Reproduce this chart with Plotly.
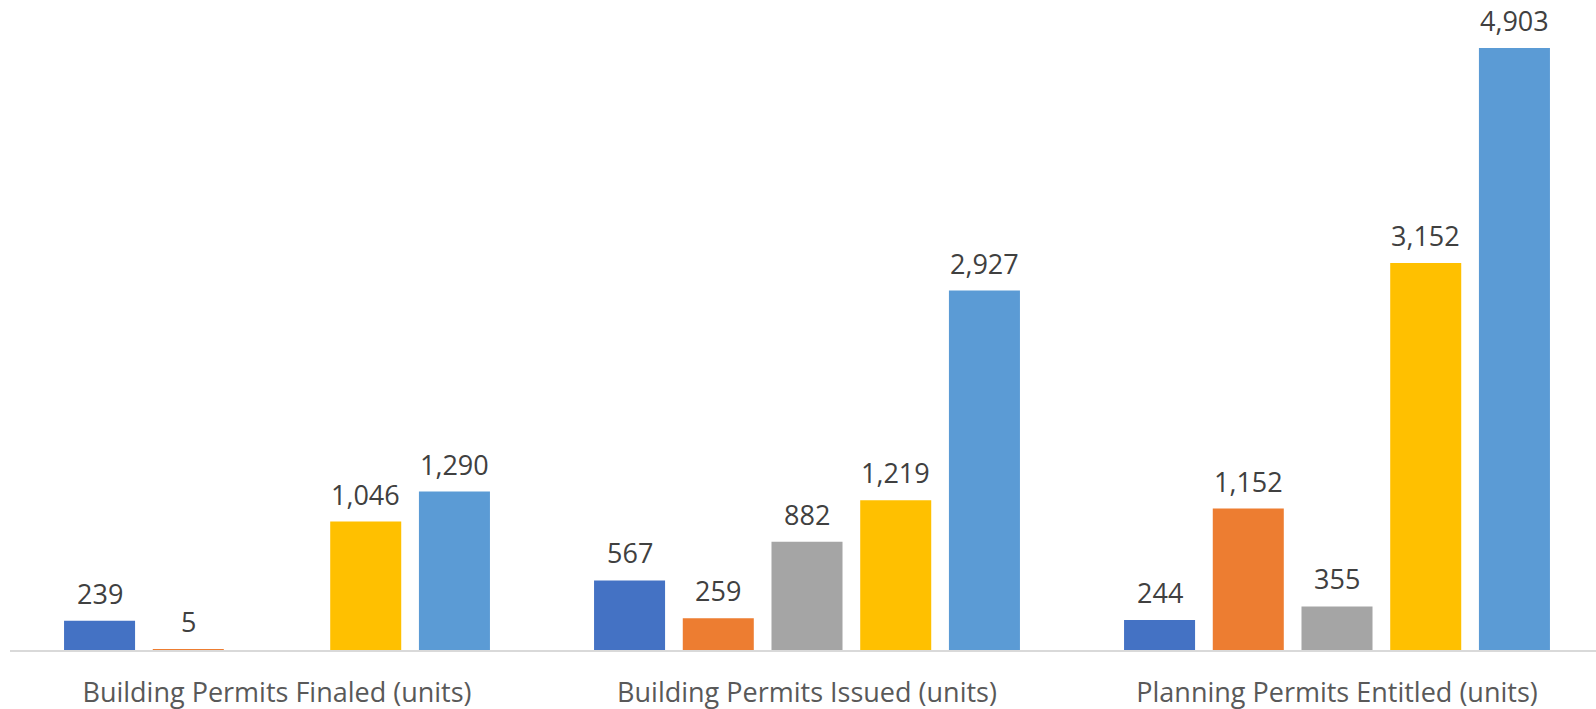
import plotly.graph_objects as go

categories = ["Building Permits Finaled (units)", "Building Permits Issued (units)", "Planning Permits Entitled (units)"]
series_colors = ["#4472C4", "#ED7D31", "#A5A5A5", "#FFC000", "#5B9BD5"]
s1 = [239, 567, 244]
s2 = [5, 259, 1152]
s3 = [None, 882, 355]
s4 = [1046, 1219, 3152]
s5 = [1290, 2927, 4903]
series = [s1, s2, s3, s4, s5]

cat_pos = [0, 1, 2]
spacing = 0.1674
bar_w = 0.134
FONT = "Open Sans"

fig = go.Figure()
annotations = []
for j, (vals, col) in enumerate(zip(series, series_colors)):
    off = (j - 2) * spacing
    xs = [c + off for c in cat_pos]
    fig.add_trace(go.Bar(x=xs, y=vals, width=bar_w, marker=dict(color=col, line=dict(width=0)),
                         showlegend=False, hoverinfo="y"))
    for x, v in zip(xs, vals):
        if v is None:
            continue
        annotations.append(dict(x=x, y=v, text=f"{v:,}", showarrow=False, xref="x", yref="y",
                                yanchor="bottom", yshift=7,
                                font=dict(family=FONT, size=27, color="#404040")))

fig.update_layout(
    width=1596, height=709,
    margin=dict(l=10, r=0, t=0, b=59),
    paper_bgcolor="white", plot_bgcolor="white",
    barmode="overlay",
    annotations=annotations,
    xaxis=dict(range=[-267/530, 1319/530], tickvals=cat_pos, ticktext=categories,
               showgrid=False, zeroline=False, showline=True, linecolor="#D9D9D9", linewidth=1.5,
               ticks="outside", ticklen=18, tickcolor="rgba(0,0,0,0)",
               tickfont=dict(family=FONT, size=27, color="#595959")),
    yaxis=dict(range=[0, 5294], visible=False, showgrid=False, zeroline=False, fixedrange=True),
)

fig.write_html("out.html")
